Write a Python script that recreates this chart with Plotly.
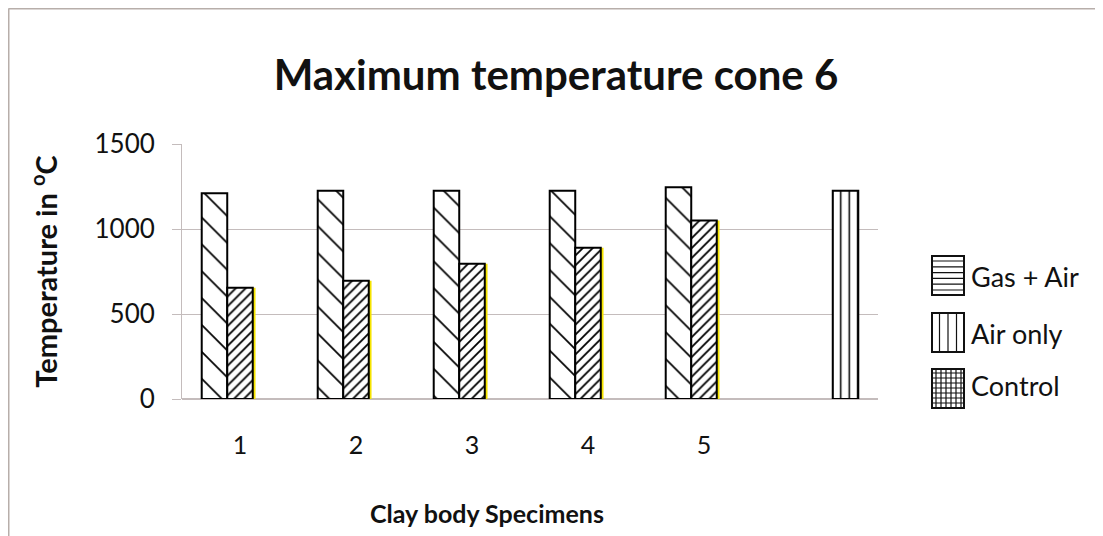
import base64
import plotly.graph_objects as go

# ---- data ----
categories = ["1", "2", "3", "4", "5", " "]
gas_air = [1210, 1225, 1225, 1225, 1245, None]
air_only = [655, 695, 795, 890, 1050, None]
control = [None, None, None, None, None, 1225]
legend_labels = ["Gas + Air", "Air only", "Control"]
y_ticks = [0, 500, 1000, 1500]

title_text = "Maximum temperature cone 6"
x_title = "Clay body Specimens"
y_title = "Temperature in <sup>o</sup>C"

FONT = "Lato, 'Open Sans', sans-serif"
GRID = "#c4bcbc"
EDGE = "#000000"
W = 0.22

# page body has an 8px margin, so the figure is drawn 8px in from the page corner
OFF = 8
FW, FH = 1103 - OFF, 536 - OFF

fig = go.Figure()

fig.add_trace(go.Bar(
    x=categories, y=gas_air, name=legend_labels[0], width=W, offset=-1.5 * W, opacity=1,
    marker=dict(color="white", line=dict(color=EDGE, width=2),
                pattern=dict(shape="\\", size=19, solidity=0.09, fgcolor="#000",
                             fgopacity=1, bgcolor="white")),
    showlegend=False))
# yellow edge under the second series
fig.add_trace(go.Bar(
    x=categories, y=air_only, width=W, offset=-0.5 * W + 0.024, opacity=1,
    marker=dict(color="#f5e400", line=dict(width=0)), showlegend=False, hoverinfo="skip"))
fig.add_trace(go.Bar(
    x=categories, y=air_only, name=legend_labels[1], width=W, offset=-0.5 * W, opacity=1,
    marker=dict(color="white", line=dict(color=EDGE, width=2),
                pattern=dict(shape="/", size=7, solidity=0.26, fgcolor="#000",
                             fgopacity=1, bgcolor="white")),
    showlegend=False))
fig.add_trace(go.Bar(
    x=categories, y=control, name=legend_labels[2], width=W, offset=0.5 * W, opacity=1,
    marker=dict(color="white", line=dict(color=EDGE, width=2),
                pattern=dict(shape="|", size=8.5, solidity=0.18, fgcolor="#000",
                             fgopacity=1, bgcolor="white")),
    showlegend=False))

# ---- custom legend swatches (as in the original figure) ----
def swatch_svg(kind, w=34, h=41):
    lines = []
    if kind == "h":
        y = 6.0
        while y < h - 1:
            lines.append(f'<line x1="0" y1="{y}" x2="{w}" y2="{y}"/>')
            y += 5.8
    elif kind == "v":
        x = 8.5
        while x < w - 1:
            lines.append(f'<line x1="{x}" y1="0" x2="{x}" y2="{h}"/>')
            x += 8.5
    else:
        y = 5.0
        while y < h - 1:
            lines.append(f'<line x1="0" y1="{y}" x2="{w}" y2="{y}"/>')
            y += 5.0
        x = 5.0
        while x < w - 1:
            lines.append(f'<line x1="{x}" y1="0" x2="{x}" y2="{h}"/>')
            x += 5.0
    svg = (f'<svg xmlns="http://www.w3.org/2000/svg" width="{w}" height="{h}" viewBox="0 0 {w} {h}">'
           f'<rect x="0" y="0" width="{w}" height="{h}" fill="white"/>'
           f'<g stroke="#111" stroke-width="1.2">{"".join(lines)}</g>'
           f'<rect x="1" y="1" width="{w-2}" height="{h-2}" fill="none" stroke="#111" stroke-width="2"/></svg>')
    return "data:image/svg+xml;base64," + base64.b64encode(svg.encode()).decode()

# plot area in page pixels: x 182..878, y 144..399
L, T = 182 - OFF, 144 - OFF
R, B = FW - (878 - OFF), FH - (399 - OFF)
PW, PH = FW - L - R, FH - T - B
def px(xp): return (xp - OFF - L) / PW
def py(yp): return (FH - B - (yp - OFF)) / PH

kinds = ["h", "v", "g"]
sw_top = [255, 312, 368]
txt_y = [276, 333, 385]
images, annotations = [], []
for lab, k, t, ty in zip(legend_labels, kinds, sw_top, txt_y):
    images.append(dict(source=swatch_svg(k), xref="paper", yref="paper",
                       x=px(931), y=py(t), sizex=34 / PW, sizey=41 / PH,
                       xanchor="left", yanchor="top", sizing="stretch", layer="above"))
    annotations.append(dict(text=lab, xref="paper", yref="paper", x=px(969), y=py(ty),
                            xanchor="left", yanchor="middle", showarrow=False,
                            font=dict(family=FONT, size=27, color="#111")))

annotations.append(dict(text=f"<b>{x_title}</b>", xref="paper", yref="paper",
                        x=px(487), y=py(513), xanchor="center", yanchor="middle",
                        showarrow=False, font=dict(family=FONT, size=25, color="#111")))

shapes = [
    dict(type="line", xref="paper", yref="paper", x0=px(8.5), x1=px(1110), y0=py(8.5), y1=py(8.5),
         line=dict(color="#b7aeaa", width=2)),
    dict(type="line", xref="paper", yref="paper", x0=px(8.5), x1=px(8.5), y0=py(8.5), y1=py(545),
         line=dict(color="#b7aeaa", width=2)),
]

fig.update_layout(
    width=FW, height=FH,
    margin=dict(l=L, r=R, t=T, b=B),
    paper_bgcolor="white", plot_bgcolor="white",
    barmode="overlay",
    showlegend=False,
    title=dict(text=f"<b>{title_text}</b>", x=(556 - OFF) / FW, xanchor="center",
               y=1 - (75 - OFF) / FH, yanchor="middle", yref="container",
               font=dict(family=FONT, size=42, color="#111")),
    font=dict(family=FONT, color="#111"),
    images=images, annotations=annotations, shapes=shapes,
)
fig.update_xaxes(type="category", categoryorder="array", categoryarray=categories,
                 showgrid=False, showline=False, ticks="", ticklabelstandoff=29,
                 tickfont=dict(family=FONT, size=25, color="#111"), zeroline=False)
fig.update_yaxes(range=[0, 1500], tickvals=y_ticks, showgrid=True, gridcolor=GRID, gridwidth=1,
                 showline=True, linecolor=GRID, linewidth=1, ticks="outside", ticklen=9,
                 tickcolor=GRID, ticklabelstandoff=12, zeroline=True, zerolinecolor=GRID,
                 zerolinewidth=1.5,
                 tickfont=dict(family=FONT, size=26, color="#111"),
                 title=dict(text=f"<b>{y_title}</b>", standoff=28,
                            font=dict(family=FONT, size=29, color="#111")))

fig.write_html("out.html")
